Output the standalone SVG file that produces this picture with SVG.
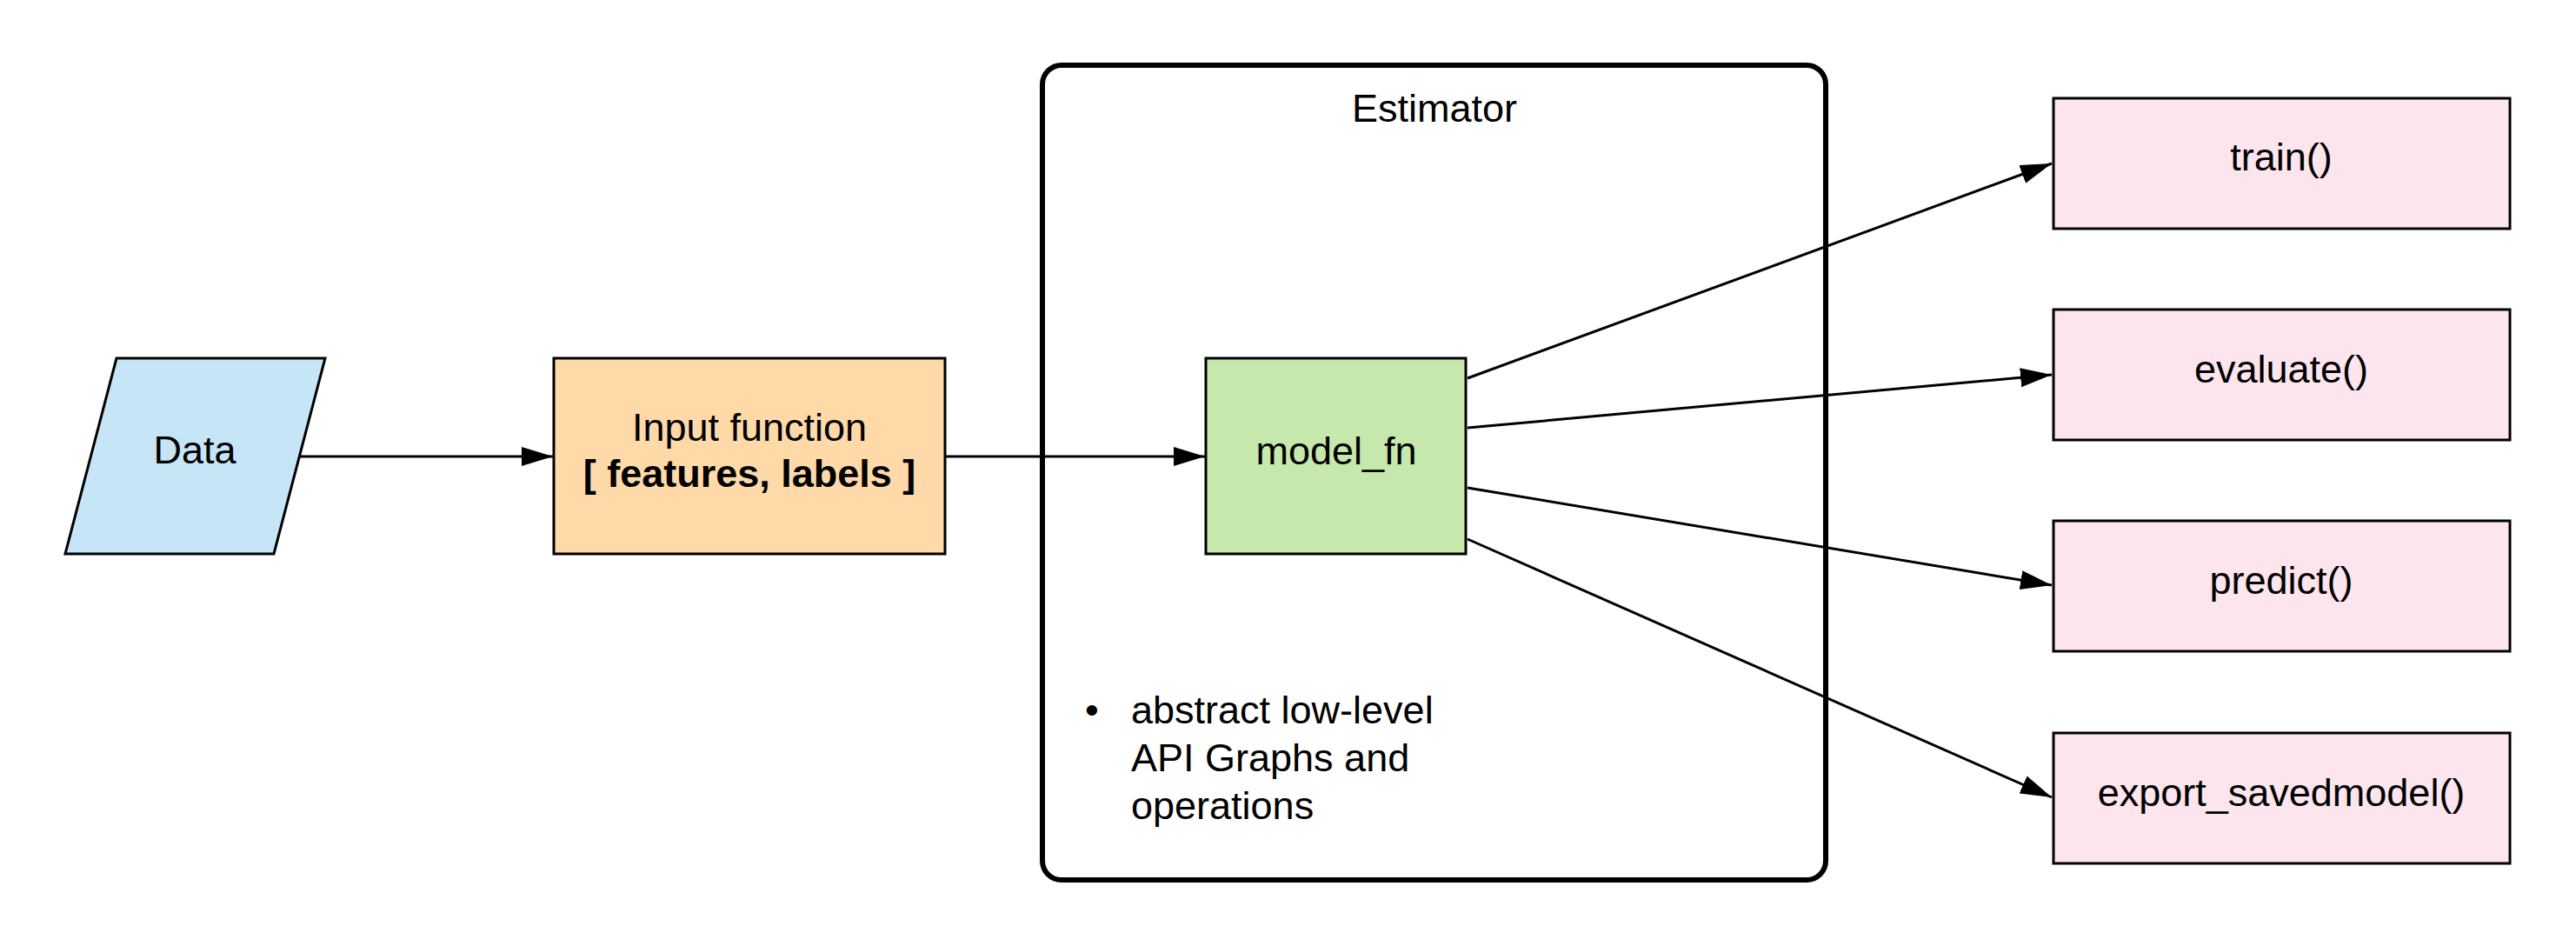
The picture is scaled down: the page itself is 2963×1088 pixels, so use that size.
<svg xmlns="http://www.w3.org/2000/svg" width="2963" height="1088" viewBox="0 0 2963 1088">
<style>
text{font-family:"Liberation Sans",Arial,sans-serif;font-size:45px;fill:#000}
.c{text-anchor:middle}
.b{font-weight:bold}
.n{stroke:#000;stroke-width:3}
.e{fill:none;stroke:#000;stroke-width:3}
</style>
<defs>
<marker id="ah" markerUnits="userSpaceOnUse" markerWidth="36" markerHeight="22" refX="36" refY="11" orient="auto">
<path d="M0,0 L36,11 L0,22 z" fill="#000"/>
</marker>
</defs>
<rect width="2963" height="1088" fill="#fff"/>
<g id="estimator">
<rect x="1199" y="75" width="901" height="937" rx="22" ry="22" fill="#fff" stroke="#000" stroke-width="6"/>
<text class="c" x="1650" y="140">Estimator</text>
<text x="1256" y="832" class="c">•</text>
<text x="1301" y="832">abstract low-level</text>
<text x="1301" y="887">API Graphs and</text>
<text x="1301" y="942">operations</text>
</g>
<g id="data">
<polygon class="n" points="134,412 374,412 315,637 75,637" fill="#c6e5f6"/>
<text class="c" x="224" y="533">Data</text>
</g>
<g id="input">
<rect class="n" x="637" y="412" width="450" height="225" fill="#ffdaa8"/>
<text class="c" x="862" y="507">Input function</text>
<text class="c b" x="862" y="560">[ features, labels ]</text>
</g>
<g id="model_fn">
<rect class="n" x="1387" y="412" width="299" height="225" fill="#c6e8ac"/>
<text class="c" x="1537" y="534">model_fn</text>
</g>
<g id="train">
<rect class="n" x="2362" y="113" width="525" height="150" fill="#fce5ed"/>
<text class="c" x="2624" y="196">train()</text>
</g>
<g id="evaluate">
<rect class="n" x="2362" y="356" width="525" height="150" fill="#fce5ed"/>
<text class="c" x="2624" y="440">evaluate()</text>
</g>
<g id="predict">
<rect class="n" x="2362" y="599" width="525" height="150" fill="#fce5ed"/>
<text class="c" x="2624" y="683">predict()</text>
</g>
<g id="export">
<rect class="n" x="2362" y="843" width="525" height="150" fill="#fce5ed"/>
<text class="c" x="2624" y="927">export_savedmodel()</text>
</g>
<g id="connectors">
<line class="e" x1="345" y1="525" x2="636" y2="525" marker-end="url(#ah)"/>
<line class="e" x1="1087" y1="525" x2="1386" y2="525" marker-end="url(#ah)"/>
<line class="e" x1="1688" y1="435" x2="2360" y2="188" marker-end="url(#ah)"/>
<line class="e" x1="1688" y1="492" x2="2360" y2="431" marker-end="url(#ah)"/>
<line class="e" x1="1688" y1="561" x2="2360" y2="673" marker-end="url(#ah)"/>
<line class="e" x1="1688" y1="620" x2="2360" y2="917" marker-end="url(#ah)"/>
</g>
</svg>
